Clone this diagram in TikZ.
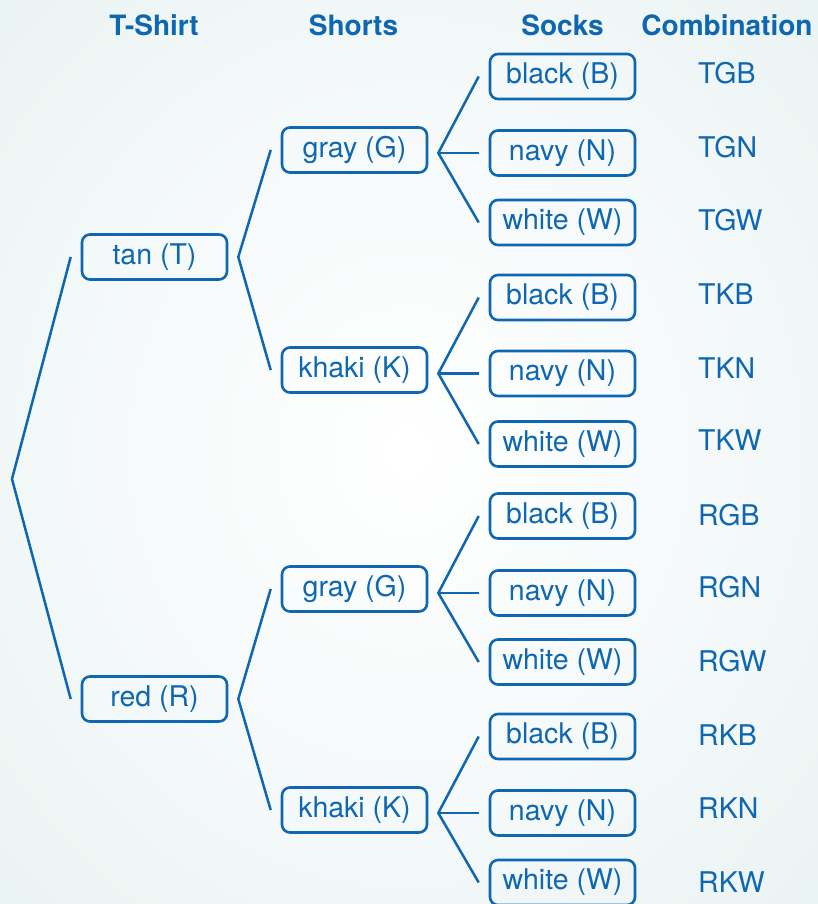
\documentclass[tikz,border=0pt]{standalone}
\usepackage{fontspec}
\setmainfont{TeX Gyre Heros}
\usetikzlibrary{calc}
\definecolor{tblue}{HTML}{0E67B0}
\definecolor{bgc}{HTML}{E0EFEB}
\definecolor{bgmid}{HTML}{F3F8F8}
\pgfdeclareradialshading{bgshade}{\pgfpoint{0bp}{0bp}}{color(0bp)=(white); color(22bp)=(bgmid); color(50bp)=(bgc); color(72bp)=(bgc)}
\tikzset{
  box/.style={draw=tblue, line width=2.6pt, rounded corners=8pt, minimum width=145pt,
    minimum height=45pt, inner sep=0pt, text=tblue, font=\fontsize{28.5}{34}\selectfont},
  hdr/.style={text=tblue, font=\fontsize{28}{34}\selectfont\bfseries, anchor=base, inner sep=0pt},
  combo/.style={text=tblue, font=\fontsize{28.5}{34}\selectfont, anchor=base west, inner sep=0pt},
  link/.style={draw=tblue, line width=2.5pt}
}
\begin{document}
\begin{tikzpicture}[x=1pt,y=-1pt]
\useasboundingbox (0,0) rectangle (818,904);
\shade[shading=bgshade] (0,0) rectangle (818,904);
% headers
\node[hdr] (hT) at (154,36) {T-Shirt};
\node[hdr] (hS) at (353.5,36) {Shorts};
\node[hdr] (hK) at (562.5,36) {Socks};
\node[hdr] (hC) at (727,36) {Combination};
% tree
\coordinate (root) at (12,479);
\node[box] (tan) at (154.5,257) {tan (T)};
\node[box] (red) at (154.5,699) {red (R)};
\node[box] (g1) at (354.5,150) {gray (G)};
\node[box] (k1) at (354.5,370) {khaki (K)};
\node[box] (g2) at (354.5,589) {gray (G)};
\node[box] (k2) at (354.5,810) {khaki (K)};
\draw[link] ($(tan.west)+(-10,0)$) -- (root) -- ($(red.west)+(-10,0)$);
\coordinate (vT) at ($(tan.east)+(10,0)$);
\coordinate (vR) at ($(red.east)+(10,0)$);
\draw[link] ($(g1.west)+(-10,0)$) -- (vT) -- ($(k1.west)+(-10,0)$);
\draw[link] ($(g2.west)+(-10,0)$) -- (vR) -- ($(k2.west)+(-10,0)$);
\foreach \pn/\pre/\ya/\yb/\yc/\la/\lb/\lc in {
  g1/TG/76.5/153/222.5/84/158/230,
  k1/TK/297.5/373.5/444/304/378/450,
  g2/RG/516/593/662/525/597/671,
  k2/RK/736.5/813/882.5/745/818/892}{
  \node[box] (\pre-B) at (562.5,\ya) {black (B)};
  \node[box] (\pre-N) at (562.5,\yb) {navy (N)};
  \node[box] (\pre-W) at (562.5,\yc) {white (W)};
  \coordinate (v\pre) at ($(\pn.east |- \pre-N.west)+(10,0)$);
  \draw[link] ($(\pre-B.west)+(-10,0)$) -- (v\pre) -- ($(\pre-W.west)+(-10,0)$);
  \draw[link] (v\pre) -- ($(\pre-N.west)+(-10,0)$);
  \node[combo] (c\pre B) at (698,\la) {\pre B};
  \node[combo] (c\pre N) at (698,\lb) {\pre N};
  \node[combo] (c\pre W) at (698,\lc) {\pre W};
}
\end{tikzpicture}
\end{document}
